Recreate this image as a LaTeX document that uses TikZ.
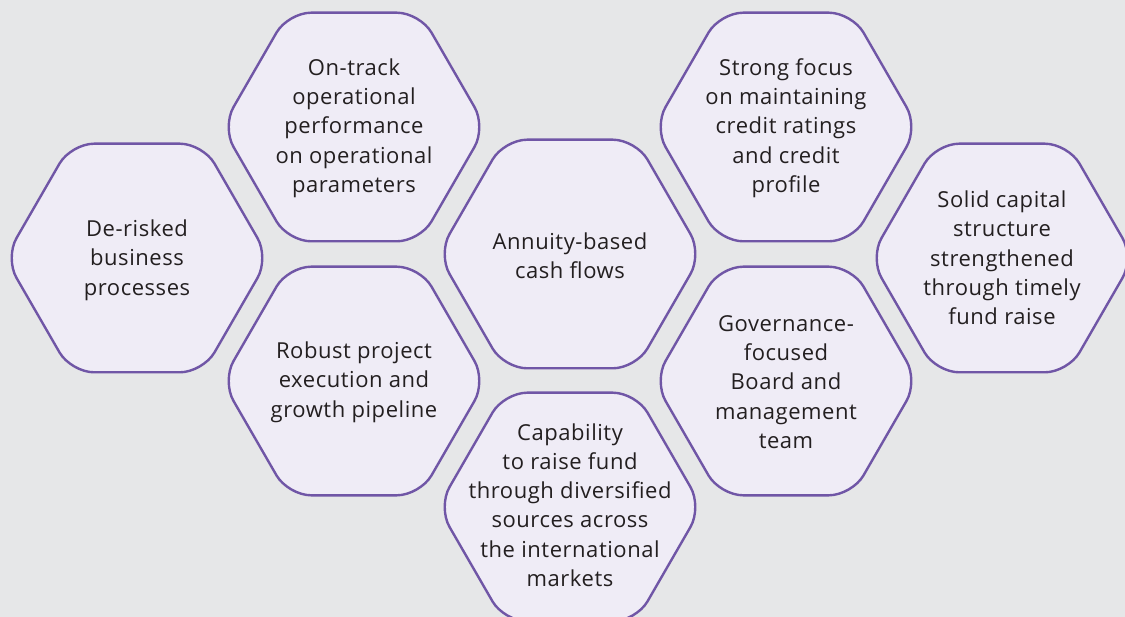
\documentclass[tikz,border=0pt]{standalone}
\usepackage{fontspec}
\setmainfont{Open Sans}[LetterSpace=2.5]
\usetikzlibrary{positioning}

\definecolor{hexline}{RGB}{112,86,166}
\definecolor{hexfill}{RGB}{239,236,246}
\definecolor{pagebg}{RGB}{230,231,232}
\definecolor{inktext}{RGB}{35,31,32}

\tikzset{
  cell/.style={draw=hexline, fill=hexfill, line width=2.4pt, rounded corners=23pt},
  celltext/.style={align=center, text=inktext, inner sep=0pt,
    font=\fontsize{22}{29.3}\selectfont}
}

\begin{document}
\begin{tikzpicture}[x=1pt,y=-1pt]

    \def\R{132}
    \def\H{114.3}
    % one hexagon cell, flat top and bottom
    \def\hexcell#1#2{%
      \draw[cell] (#1-\R,#2) -- (#1-\R/2,#2-\H) -- (#1+\R/2,#2-\H)
        -- (#1+\R,#2) -- (#1+\R/2,#2+\H) -- (#1-\R/2,#2+\H) -- cycle;}

    % page
    \fill[pagebg] (0,0) rectangle (1125,617);
    \useasboundingbox (0,0) rectangle (1125,617);
    \clip (0,0) rectangle (1125,617);

    % cells
    \hexcell{137}{258}
    \hexcell{354}{127}
    \hexcell{354}{381}
    \hexcell{570}{254}
    \hexcell{570}{507}
    \hexcell{786}{127}
    \hexcell{786}{381}
    \hexcell{1002}{258}

    % texts
    \node[celltext] (derisk) at (137,260) {De-risked\\business\\processes};
    \node[celltext] (ontrack) at (354,128) {On-track\\operational\\performance\\on operational\\parameters};
    \node[celltext] (robust) at (354,382) {Robust project\\execution and\\growth pipeline};
    \node[celltext] (annuity) at (570,256) {Annuity-based\\cash flows};
    \node[celltext] (capability) at (570,505) {Capability\\to raise fund\\through diversified\\sources across\\the international\\markets};
    \node[celltext] (strong) at (786,128) {Strong focus\\on maintaining\\credit ratings\\and credit\\profile};
    \node[celltext] (governance) at (786,382) {Governance-\\focused\\Board and\\management\\team};
    \node[celltext] (solid) at (1002,258) {Solid capital\\structure\\strengthened\\through timely\\fund raise};

\end{tikzpicture}
\end{document}
